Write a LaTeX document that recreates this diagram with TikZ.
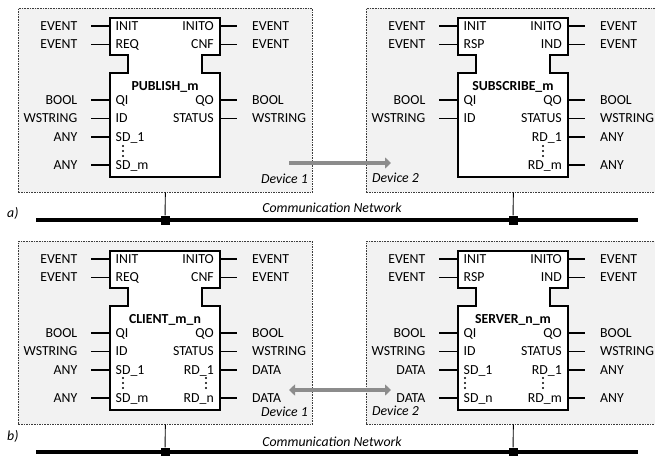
\documentclass[tikz,border=0pt]{standalone}
\usepackage{fontspec}
\setmainfont{Carlito}
\usetikzlibrary{arrows.meta}
\definecolor{boxfill}{RGB}{242,242,242}
\definecolor{boxline}{RGB}{60,60,60}
\definecolor{arrowgray}{RGB}{140,140,140}
\newcommand\pinin[5]{%
  \coordinate (#1s) at ({#2-19},{#3});
  \coordinate (#1e) at (#2,{#3});
  \draw[pinline] (#1s) -- (#1e);
  \node[tyin] (#1t) at ({#2-32.5},{#3}) {#5};
  \node[pnin] (#1p) at ({#2+5.5},{#3}) {#4};
}
\newcommand\pinout[5]{%
  \coordinate (#1s) at (#2,{#3});
  \coordinate (#1e) at ({#2+17},{#3});
  \draw[pinline] (#1s) -- (#1e);
  \node[tyout] (#1t) at ({#2+32},{#3}) {#5};
  \node[pnout] (#1p) at ({#2-6},{#3}) {#4};
}
\newcommand\fbshape[4]{% id, left, top, name
  \draw[fbline] (#2,#3) -- ++(110,0) -- ++(0,37) -- ++(-18,0) -- ++(0,18) -- ++(18,0)
    -- ++(0,104) -- ++(-110,0) -- ++(0,-104) -- ++(18,0) -- ++(0,-18) -- ++(-18,0) -- cycle;
  \node[fbname] (#1) at ({#2+55},{#3+69}) {#4};
}
\newcommand\vdotsat[2]{%
  \fill ({#1},{#2-5}) circle (1.05);
  \fill ({#1},{#2}) circle (1.05);
  \fill ({#1},{#2+5}) circle (1.05);
}
\begin{document}
\begin{tikzpicture}[x=1pt,y=-1pt,
  font=\fontsize{13.8}{15}\selectfont,
  pinline/.style={line width=1.2pt},
  fbline/.style={line width=1.3pt, fill=white},
  tyin/.style={anchor=base east, yshift=-4.4pt, inner sep=0pt},
  tyout/.style={anchor=base west, yshift=-4.4pt, inner sep=0pt},
  pnin/.style={anchor=base west, yshift=-4.4pt, inner sep=0pt},
  pnout/.style={anchor=base east, yshift=-4.4pt, inner sep=0pt},
  fbname/.style={font=\fontsize{13.8}{15}\selectfont\bfseries, inner sep=0pt},
  devbox/.style={draw=boxline, fill=boxfill, dashed, dash pattern=on 1.6pt off 1pt,
     line width=0.7pt, minimum width=294pt, anchor=north west, inner sep=0pt},
  devlabel/.style={font=\fontsize{13.8}{15}\selectfont\itshape, inner sep=0pt},
  bus/.style={line width=3.4pt},
  drop/.style={line width=0.9pt},
  junction/.style={fill=black, minimum size=9pt, inner sep=0pt},
  garrow/.style={draw=arrowgray, line width=4pt},
  panel/.style={font=\fontsize{13.8}{15}\selectfont\itshape, inner sep=0pt}
]
\useasboundingbox (0,0) rectangle (655,455);
\clip (0,0) rectangle (655,455);

% ================= panel a =================
\node[devbox, minimum height=184pt] (dev1a) at (18,8) {};
\node[devbox, minimum height=184pt] (dev2a) at (366,8) {};

% PUBLISH_m
\fbshape{pub}{110}{18}{PUBLISH\_m}
\pinin{pubi1}{110}{26}{INIT}{EVENT}
\pinin{pubi2}{110}{44.5}{REQ}{EVENT}
\pinin{pubi3}{110}{100}{QI}{BOOL}
\pinin{pubi4}{110}{118.5}{ID}{WSTRING}
\pinin{pubi5}{110}{137}{SD\_1}{ANY}
\pinin{pubi6}{110}{165}{SD\_m}{ANY}
\pinout{pubo1}{220}{26}{INITO}{EVENT}
\pinout{pubo2}{220}{44.5}{CNF}{EVENT}
\pinout{pubo3}{220}{100}{QO}{BOOL}
\pinout{pubo4}{220}{118.5}{STATUS}{WSTRING}
\vdotsat{123}{151}

% SUBSCRIBE_m
\fbshape{sub}{458}{18}{SUBSCRIBE\_m}
\pinin{subi1}{458}{26}{INIT}{EVENT}
\pinin{subi2}{458}{44.5}{RSP}{EVENT}
\pinin{subi3}{458}{100}{QI}{BOOL}
\pinin{subi4}{458}{118.5}{ID}{WSTRING}
\pinout{subo1}{568}{26}{INITO}{EVENT}
\pinout{subo2}{568}{44.5}{IND}{EVENT}
\pinout{subo3}{568}{100}{QO}{BOOL}
\pinout{subo4}{568}{118.5}{STATUS}{WSTRING}
\pinout{subo5}{568}{137}{RD\_1}{ANY}
\pinout{subo6}{568}{165}{RD\_m}{ANY}
\vdotsat{543}{151}

\node[devlabel, anchor=base east] (d1a) at (308,183) {Device 1};
\node[devlabel, anchor=base west] (d2a) at (372,182) {Device 2};

\coordinate (ga1) at (289,163);
\coordinate (ga2) at (391,163);
\draw[garrow, -{Triangle[length=6pt,width=11pt]}] (ga1) -- (ga2);

\coordinate (busa1) at (36,220);
\coordinate (busa2) at (638,220);
\draw[bus] (busa1) -- (busa2);
\node[junction] (ja1) at (165,220) {};
\node[junction] (ja2) at (513,220) {};
\draw[drop] (dev1a.south) -- (ja1);
\draw[drop] (dev2a.south) -- (ja2);
\node[panel, anchor=base] (cna) at (332,212) {Communication Network};
\node[panel, anchor=base west] (pa) at (7,217) {a)};

% ================= panel b =================
\node[devbox, minimum height=183pt] (dev1b) at (18,241) {};
\node[devbox, minimum height=183pt] (dev2b) at (366,241) {};

% CLIENT_m_n
\fbshape{cli}{110}{251}{CLIENT\_m\_n}
\pinin{clii1}{110}{259}{INIT}{EVENT}
\pinin{clii2}{110}{277.5}{REQ}{EVENT}
\pinin{clii3}{110}{333}{QI}{BOOL}
\pinin{clii4}{110}{351.5}{ID}{WSTRING}
\pinin{clii5}{110}{370}{SD\_1}{ANY}
\pinin{clii6}{110}{398}{SD\_m}{ANY}
\pinout{clio1}{220}{259}{INITO}{EVENT}
\pinout{clio2}{220}{277.5}{CNF}{EVENT}
\pinout{clio3}{220}{333}{QO}{BOOL}
\pinout{clio4}{220}{351.5}{STATUS}{WSTRING}
\pinout{clio5}{220}{370}{RD\_1}{DATA}
\pinout{clio6}{220}{398}{RD\_n}{DATA}
\vdotsat{123}{383}
\vdotsat{206}{383}

% SERVER_n_m
\fbshape{srv}{458}{251}{SERVER\_n\_m}
\pinin{srvi1}{458}{259}{INIT}{EVENT}
\pinin{srvi2}{458}{277.5}{RSP}{EVENT}
\pinin{srvi3}{458}{333}{QI}{BOOL}
\pinin{srvi4}{458}{351.5}{ID}{WSTRING}
\pinin{srvi5}{458}{370}{SD\_1}{DATA}
\pinin{srvi6}{458}{398}{SD\_n}{DATA}
\pinout{srvo1}{568}{259}{INITO}{EVENT}
\pinout{srvo2}{568}{277.5}{IND}{EVENT}
\pinout{srvo3}{568}{333}{QO}{BOOL}
\pinout{srvo4}{568}{351.5}{STATUS}{WSTRING}
\pinout{srvo5}{568}{370}{RD\_1}{ANY}
\pinout{srvo6}{568}{398}{RD\_m}{ANY}
\vdotsat{465}{383}
\vdotsat{543}{383}

\node[devlabel, anchor=base east] (d1b) at (308,416) {Device 1};
\node[devlabel, anchor=base west] (d2b) at (372,415) {Device 2};

\coordinate (gb1) at (289,390);
\coordinate (gb2) at (391,390);
\draw[garrow, {Triangle[length=6pt,width=11pt]}-{Triangle[length=6pt,width=11pt]}] (gb1) -- (gb2);

\coordinate (busb1) at (36,452);
\coordinate (busb2) at (638,452);
\draw[bus] (busb1) -- (busb2);
\node[junction] (jb1) at (165,452) {};
\node[junction] (jb2) at (513,452) {};
\draw[drop] (dev1b.south) -- (jb1);
\draw[drop] (dev2b.south) -- (jb2);
\node[panel, anchor=base] (cnb) at (332,446) {Communication Network};
\node[panel, anchor=base west] (pb) at (7,440) {b)};
\end{tikzpicture}
\end{document}
